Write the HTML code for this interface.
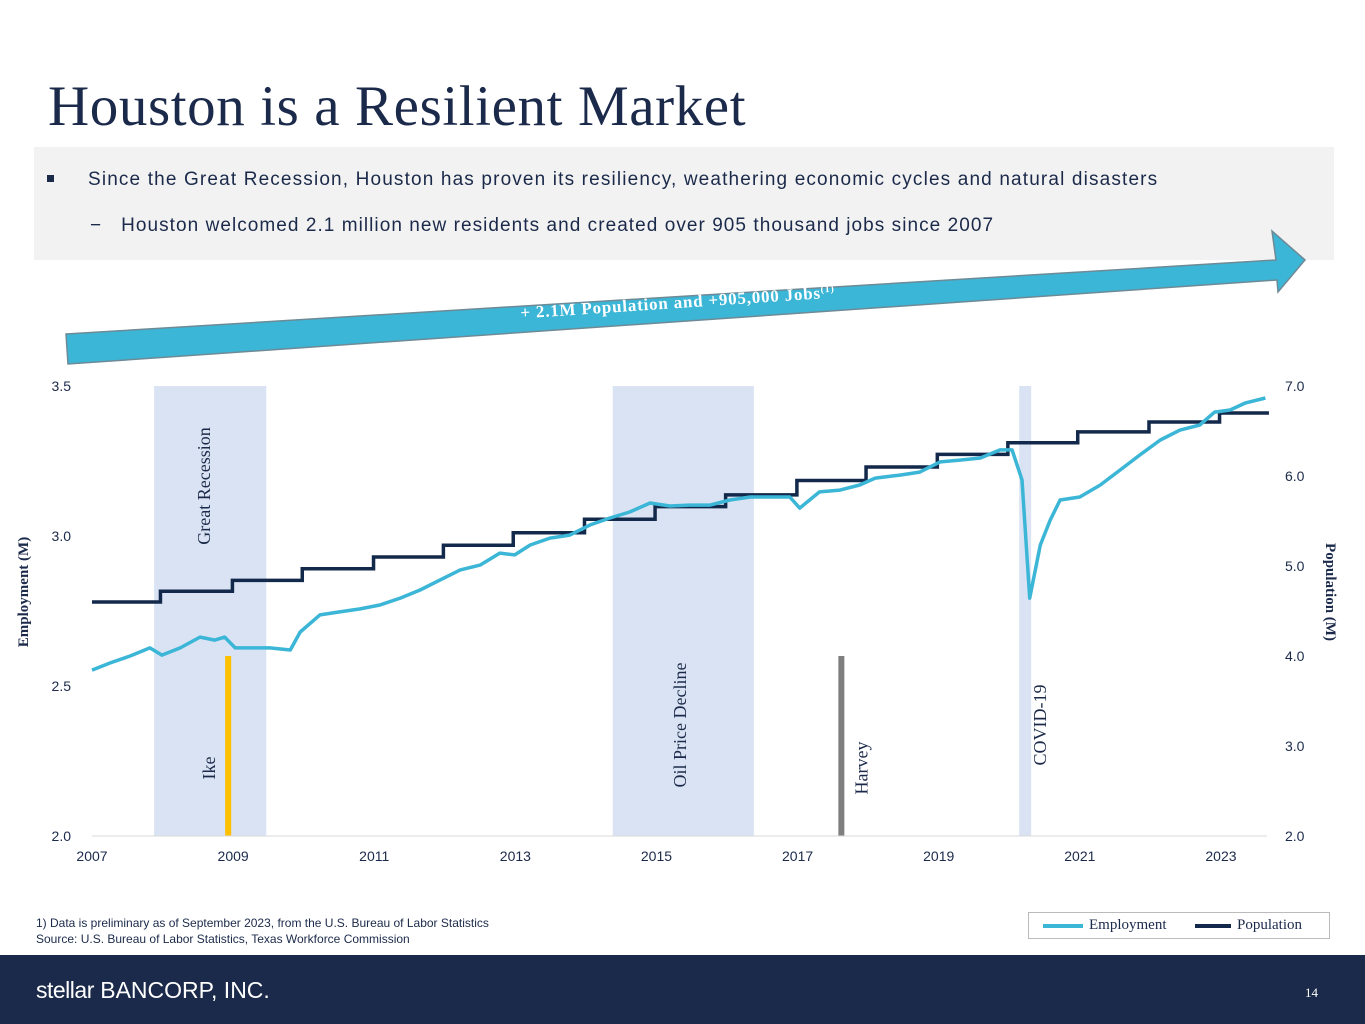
<!DOCTYPE html>
<html><head><meta charset="utf-8"><style>
body{margin:0;width:1365px;height:1024px;position:relative;background:#fff;font-family:"Liberation Sans",sans-serif;overflow:hidden}
.abs{position:absolute}
</style></head><body>
<div class="abs" style="left:48px;top:74px;font-family:'Liberation Serif',serif;font-size:57px;letter-spacing:0.6px;color:#1b2a4a">Houston is a Resilient Market</div>
<div class="abs" style="left:34px;top:147px;width:1300px;height:113px;background:#f2f2f2">
 <div class="abs" style="left:13px;top:28px;width:7px;height:7px;background:#1b2a4a"></div>
 <div class="abs" style="left:54px;top:22px;font-size:19px;letter-spacing:1.15px;color:#1b2a4a;white-space:nowrap">Since the Great Recession, Houston has proven its resiliency, weathering economic cycles and natural disasters</div>
 <div class="abs" style="left:56px;top:68px;font-size:19px;letter-spacing:1.05px;color:#1b2a4a;white-space:nowrap">−&nbsp;&nbsp;&nbsp;Houston welcomed 2.1 million new residents and created over 905 thousand jobs since 2007</div>
</div>
<svg class="abs" style="left:0;top:0" width="1365" height="1024">
 <g>
  <polygon points="66,334 1276,260 1272,231 1305,260 1278,292 1277,280 68,364" fill="#3bb6d6" stroke="#6d8a96" stroke-width="1.5"/>
  <text x="678" y="308" transform="rotate(-3.79 678 308)" text-anchor="middle" font-family="Liberation Serif,serif" font-weight="bold" font-size="17" letter-spacing="0.8" fill="#fff">+ 2.1M Population and +905,000 Jobs<tspan font-size="10" dy="-6">(1)</tspan></text>
 </g>
 <g id="bands"></g>
 <g id="axes"></g>
 <g id="series"></g>
</svg>
<div class="abs" style="left:36px;top:915px;font-size:12px;color:#1b2a4a;line-height:16px">1) Data is preliminary as of September 2023, from the U.S. Bureau of Labor Statistics<br>Source: U.S. Bureau of Labor Statistics, Texas Workforce Commission</div>
<div class="abs" style="left:1028px;top:912px;width:300px;height:25px;border:1px solid #bbb;font-family:'Liberation Serif',serif;font-size:15px;color:#1b2a4a">
 <div class="abs" style="left:14px;top:4px"><span style="display:inline-block;width:40px;height:4px;background:#3bb6d6;vertical-align:middle;margin-right:6px"></span>Employment</div>
 <div class="abs" style="left:166px;top:4px"><span style="display:inline-block;width:36px;height:4px;background:#13294b;vertical-align:middle;margin-right:6px"></span>Population</div>
</div>
<div class="abs" style="left:0;top:955px;width:1365px;height:69px;background:#1b2a4a">
 <div class="abs" style="left:36px;top:22px;color:#fff;font-size:23px"><span style="letter-spacing:-0.5px">stellar</span> BANCORP, INC.</div>
 <div class="abs" style="left:1305px;top:30px;color:#fff;font-family:'Liberation Serif',serif;font-size:13px">14</div>
</div>
<script>
const xTicks=[2007,2009,2011,2013,2015,2017,2019,2021,2023];
const empTicks=[2.0,2.5,3.0,3.5];
const popTicks=[2.0,3.0,4.0,5.0,6.0,7.0];
const empDates=[2007.00,2007.26,2007.54,2007.82,2007.99,2008.25,2008.53,2008.74,2008.88,2009.03,2009.24,2009.52,2009.81,2009.95,2010.23,2010.51,2010.80,2011.08,2011.37,2011.65,2011.93,2012.22,2012.50,2012.78,2012.99,2013.21,2013.49,2013.77,2014.06,2014.34,2014.62,2014.91,2015.19,2015.47,2015.76,2016.04,2016.33,2016.61,2016.89,2017.03,2017.31,2017.60,2017.88,2018.10,2018.45,2018.73,2019.02,2019.30,2019.59,2019.87,2020.04,2020.18,2020.29,2020.44,2020.58,2020.72,2021.00,2021.29,2021.57,2021.85,2022.14,2022.42,2022.70,2022.91,2023.13,2023.34,2023.63];
const empValues=[2.553,2.577,2.600,2.627,2.603,2.627,2.663,2.653,2.663,2.627,2.627,2.627,2.620,2.680,2.737,2.747,2.757,2.770,2.793,2.820,2.853,2.887,2.903,2.943,2.937,2.970,2.993,3.003,3.037,3.060,3.080,3.110,3.100,3.103,3.103,3.120,3.130,3.130,3.130,3.093,3.147,3.153,3.170,3.193,3.203,3.213,3.247,3.253,3.260,3.287,3.287,3.187,2.793,2.970,3.053,3.120,3.130,3.170,3.220,3.270,3.320,3.353,3.370,3.413,3.420,3.443,3.460];
const popStepDates=[2007.0,2007.97,2008.99,2009.98,2010.99,2011.98,2012.97,2013.98,2014.98,2015.98,2016.99,2017.97,2018.98,2019.98,2020.97,2021.98,2022.98];
const popValues=[4.60,4.72,4.84,4.97,5.10,5.23,5.37,5.52,5.66,5.79,5.95,6.10,6.24,6.37,6.49,6.60,6.70];
const popEnd=2023.68;
const bandNames=['Great Recession','Oil Price Decline','COVID-19'];
const bandStarts=[2007.88,2014.38,2020.14];
const bandEnds=[2009.47,2016.38,2020.31];
const eventNames=['Ike','Harvey'];
const eventDates=[2008.93,2017.62];
const eventHeights=[2.6,2.6];

const X0=92,PX=70.56;
const x=t=>X0+(t-2007)*PX;
const yE=v=>836-(v-2.0)*300;
const yP=v=>836-(v-2.0)*90;
const NS='http://www.w3.org/2000/svg';
function mk(tag,attrs,parent,txt){const e=document.createElementNS(NS,tag);for(const k in attrs)e.setAttribute(k,attrs[k]);if(txt!==undefined)e.textContent=txt;parent.appendChild(e);return e;}
const bands=document.getElementById('bands'),axes=document.getElementById('axes'),series=document.getElementById('series');
const labelPos=[[210,486],[686,725],[1046,725]];
bandNames.forEach((n,i)=>{
 const r=mk('rect',{x:x(bandStarts[i]),y:386,width:x(bandEnds[i])-x(bandStarts[i]),height:450,fill:'#dae3f3'},bands);
 
 
 const [lx,ly]=labelPos[i];
 const t=mk('text',{x:lx,y:ly,transform:`rotate(-90 ${lx} ${ly})`,'text-anchor':'middle','font-family':'Liberation Serif,serif','font-size':18,fill:'#1b2a4a'},bands,n);
 
 
});
const evColors=['#ffc000','#7f7f7f'];
const evLabelOff=[-13,26];
eventNames.forEach((n,i)=>{
 const r=mk('rect',{x:x(eventDates[i])-3,y:yE(eventHeights[i]),width:6,height:836-yE(eventHeights[i]),fill:evColors[i]},bands);
 
 
 const lx=x(eventDates[i])+evLabelOff[i],ly=768;
 const t=mk('text',{x:lx,y:ly,transform:`rotate(-90 ${lx} ${ly})`,'text-anchor':'middle','font-family':'Liberation Serif,serif','font-size':18,fill:'#1b2a4a'},bands,n);
 
 
});
mk('line',{x1:92,y1:836,x2:1267,y2:836,stroke:'#d9d9d9'},axes);
xTicks.forEach(t=>{const e=mk('text',{x:x(t),y:861,'text-anchor':'middle','font-size':14,fill:'#1b2a4a'},axes,t);
 });
empTicks.forEach(v=>{const e=mk('text',{x:71,y:yE(v)+5,'text-anchor':'end','font-size':14,fill:'#1b2a4a'},axes,v.toFixed(1));
 });
popTicks.forEach(v=>{const e=mk('text',{x:1285,y:yP(v)+5,'font-size':14,fill:'#1b2a4a'},axes,v.toFixed(1));
 });
let e=mk('text',{x:28,y:592,transform:'rotate(-90 28 592)','text-anchor':'middle','font-family':'Liberation Serif,serif','font-weight':'bold','font-size':15,fill:'#1b2a4a'},axes,'Employment (M)');

e=mk('text',{x:1326,y:592,transform:'rotate(90 1326 592)','text-anchor':'middle','font-family':'Liberation Serif,serif','font-weight':'bold','font-size':15,fill:'#1b2a4a'},axes,'Population (M)');

let pd='';
popValues.forEach((v,i)=>{const x1=x(popStepDates[i]),x2=x(i+1<popStepDates.length?popStepDates[i+1]:popEnd);pd+=(i?'L':'M')+x1+','+yP(v)+'L'+x2+','+yP(v);});
e=mk('path',{d:pd,fill:'none',stroke:'#13294b','stroke-width':3.5},series);

let ed='';
empDates.forEach((t,i)=>{ed+=(i?'L':'M')+x(t).toFixed(1)+','+yE(empValues[i]).toFixed(1);});
e=mk('path',{d:ed,fill:'none',stroke:'#3bb6d6','stroke-width':3.5,'stroke-linejoin':'round'},series);

</script>
</body></html>
